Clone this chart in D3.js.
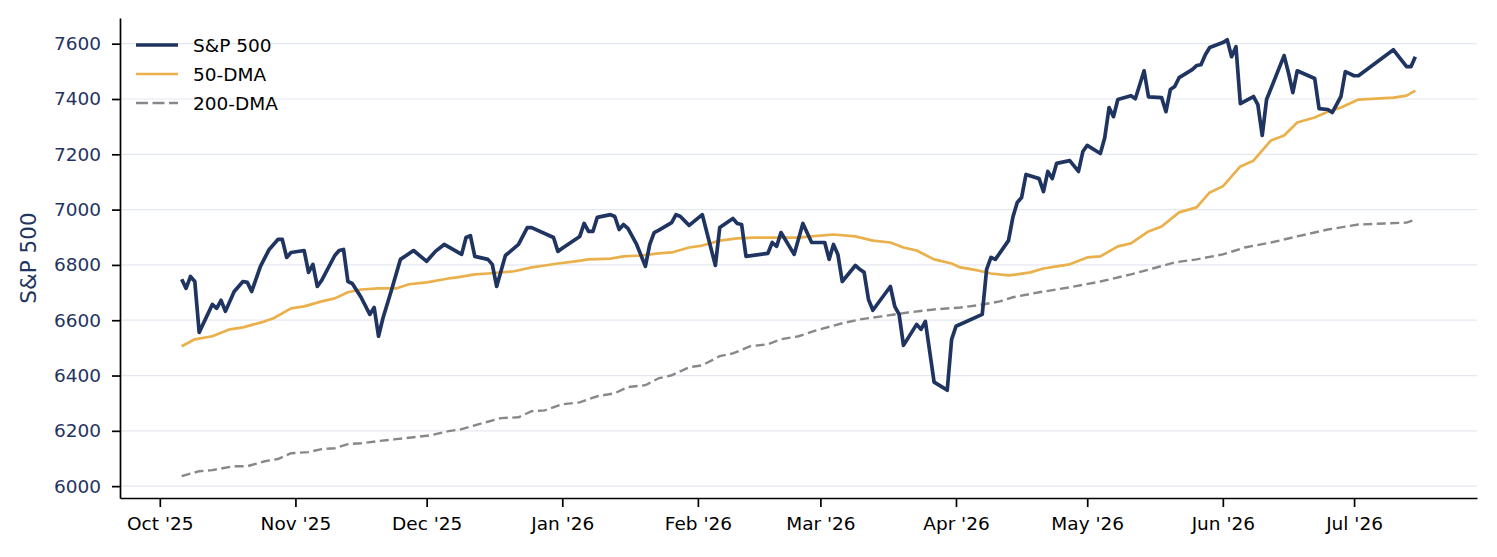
<!DOCTYPE html>
<html>
<head>
<meta charset="utf-8">
<script src="https://cdn.jsdelivr.net/npm/d3@7"></script>
<style>
  body { margin: 0; background: #fff; }
  svg { display: block; font-family: "DejaVu Sans", sans-serif; }
</style>
</head>
<body>
<svg id="chart" width="1497" height="557"></svg>
<script>
// S&P 500 close
const spxDates = [
  '2025-10-06','2025-10-07','2025-10-08','2025-10-09','2025-10-10','2025-10-13','2025-10-14','2025-10-15','2025-10-16','2025-10-18',
  '2025-10-20','2025-10-21','2025-10-22','2025-10-24','2025-10-26','2025-10-28','2025-10-29','2025-10-30','2025-10-31','2025-11-03',
  '2025-11-04','2025-11-05','2025-11-06','2025-11-07','2025-11-10','2025-11-11','2025-11-12','2025-11-13','2025-11-14','2025-11-16',
  '2025-11-18','2025-11-19','2025-11-20','2025-11-21','2025-11-23','2025-11-25','2025-11-28','2025-12-01','2025-12-03','2025-12-05',
  '2025-12-09','2025-12-10','2025-12-11','2025-12-12','2025-12-15','2025-12-16','2025-12-17','2025-12-19','2025-12-22','2025-12-24',
  '2025-12-25','2025-12-30','2025-12-31','2026-01-01','2026-01-05','2026-01-06','2026-01-07','2026-01-08','2026-01-09','2026-01-12',
  '2026-01-13','2026-01-14','2026-01-15','2026-01-16','2026-01-18','2026-01-20','2026-01-21','2026-01-22','2026-01-23','2026-01-26',
  '2026-01-27','2026-01-28','2026-01-30','2026-02-02','2026-02-05','2026-02-06','2026-02-09','2026-02-10','2026-02-11','2026-02-12',
  '2026-02-17','2026-02-18','2026-02-19','2026-02-20','2026-02-23','2026-02-25','2026-02-27','2026-03-02','2026-03-03','2026-03-04',
  '2026-03-05','2026-03-06','2026-03-09','2026-03-10','2026-03-11','2026-03-12','2026-03-13','2026-03-17','2026-03-18','2026-03-19',
  '2026-03-20','2026-03-23','2026-03-24','2026-03-25','2026-03-27','2026-03-30','2026-03-31','2026-04-01','2026-04-07','2026-04-08',
  '2026-04-09','2026-04-10','2026-04-13','2026-04-14','2026-04-15','2026-04-16','2026-04-17','2026-04-20','2026-04-21','2026-04-22',
  '2026-04-23','2026-04-24','2026-04-27','2026-04-29','2026-04-30','2026-05-01','2026-05-04','2026-05-05','2026-05-06','2026-05-07',
  '2026-05-08','2026-05-11','2026-05-12','2026-05-14','2026-05-15','2026-05-18','2026-05-19','2026-05-20','2026-05-21','2026-05-22',
  '2026-05-25','2026-05-26','2026-05-27','2026-05-28','2026-05-29','2026-06-01','2026-06-02','2026-06-03','2026-06-04','2026-06-05',
  '2026-06-08','2026-06-09','2026-06-10','2026-06-11','2026-06-15','2026-06-16','2026-06-17','2026-06-18','2026-06-22','2026-06-23',
  '2026-06-25','2026-06-26','2026-06-28','2026-06-29','2026-07-01','2026-07-02','2026-07-10','2026-07-13','2026-07-14','2026-07-15'
];
const spxValues = [
  6748,6715,6758,6740,6556,6657,6643,6672,6632,6704,
  6740,6737,6704,6795,6856,6892,6892,6827,6845,6852,
  6773,6802,6722,6744,6834,6852,6856,6740,6733,6683,
  6621,6646,6542,6607,6711,6820,6852,6813,6849,6874,
  6838,6899,6906,6831,6820,6802,6722,6834,6874,6935,
  6935,6899,6849,6860,6903,6950,6921,6921,6972,6982,
  6975,6928,6946,6932,6874,6795,6874,6917,6925,6953,
  6982,6975,6943,6982,6798,6935,6968,6950,6946,6831,
  6842,6881,6867,6917,6838,6950,6881,6881,6820,6874,
  6838,6740,6798,6784,6773,6675,6636,6722,6650,6621,
  6509,6585,6567,6596,6376,6347,6531,6578,6621,6784,
  6827,6820,6888,6972,7026,7044,7127,7112,7065,7138,
  7112,7167,7177,7138,7210,7232,7203,7260,7369,7336,
  7398,7412,7401,7502,7408,7405,7354,7434,7445,7477,
  7506,7521,7524,7560,7586,7604,7614,7553,7589,7383,
  7409,7380,7268,7398,7557,7495,7423,7502,7474,7365,
  7362,7351,7409,7499,7484,7484,7578,7517,7517,7553
];

// 50-day moving average
const dma50Dates = [
  '2025-10-06','2025-10-09','2025-10-13','2025-10-17','2025-10-20','2025-10-25','2025-10-27','2025-10-31','2025-11-03','2025-11-07',
  '2025-11-10','2025-11-13','2025-11-16','2025-11-20','2025-11-24','2025-11-27','2025-12-01','2025-12-06','2025-12-08','2025-12-12',
  '2025-12-15','2025-12-21','2025-12-25','2025-12-28','2025-12-31','2026-01-04','2026-01-07','2026-01-12','2026-01-15','2026-01-19',
  '2026-01-23','2026-01-26','2026-01-30','2026-02-02','2026-02-06','2026-02-10','2026-02-14','2026-02-19','2026-02-24','2026-02-27',
  '2026-03-04','2026-03-09','2026-03-13','2026-03-17','2026-03-20','2026-03-23','2026-03-27','2026-03-31','2026-04-02','2026-04-06',
  '2026-04-09','2026-04-13','2026-04-15','2026-04-18','2026-04-21','2026-04-24','2026-04-27','2026-05-01','2026-05-04','2026-05-08',
  '2026-05-11','2026-05-15','2026-05-18','2026-05-22','2026-05-26','2026-05-29','2026-06-01','2026-06-05','2026-06-08','2026-06-12',
  '2026-06-15','2026-06-18','2026-06-22','2026-06-25','2026-06-28','2026-07-02','2026-07-10','2026-07-13','2026-07-15'
];
const dma50Values = [
  6506,6531,6542,6567,6574,6596,6607,6643,6650,6668,
  6679,6701,6711,6715,6715,6730,6737,6751,6755,6766,
  6769,6777,6791,6798,6805,6813,6820,6823,6831,6834,
  6842,6845,6863,6870,6888,6896,6899,6899,6899,6903,
  6910,6903,6888,6881,6863,6852,6820,6805,6791,6780,
  6769,6762,6766,6773,6787,6795,6802,6827,6831,6867,
  6878,6921,6939,6990,7008,7062,7084,7156,7177,7250,
  7268,7315,7333,7354,7369,7398,7405,7412,7430
];

// 200-day moving average
const dma200Dates = [
  '2025-10-06','2025-10-10','2025-10-13','2025-10-18','2025-10-21','2025-10-25','2025-10-28','2025-10-31','2025-11-04','2025-11-07',
  '2025-11-10','2025-11-13','2025-11-16','2025-11-20','2025-11-24','2025-11-28','2025-12-02','2025-12-06','2025-12-09','2025-12-12',
  '2025-12-18','2025-12-22','2025-12-25','2025-12-28','2026-01-01','2026-01-05','2026-01-09','2026-01-13','2026-01-16','2026-01-20',
  '2026-01-23','2026-01-26','2026-01-30','2026-02-02','2026-02-06','2026-02-09','2026-02-13','2026-02-17','2026-02-20','2026-02-24',
  '2026-02-28','2026-03-06','2026-03-10','2026-03-15','2026-03-21','2026-03-27','2026-04-02','2026-04-06','2026-04-11','2026-04-14',
  '2026-04-20','2026-04-27','2026-05-04','2026-05-11','2026-05-16','2026-05-21','2026-05-26','2026-06-01','2026-06-06','2026-06-12',
  '2026-06-18','2026-06-25','2026-07-02','2026-07-08','2026-07-13','2026-07-15'
];
const dma200Values = [
  6036,6054,6058,6072,6072,6090,6098,6119,6123,6134,
  6137,6152,6155,6163,6170,6177,6184,6199,6206,6220,
  6246,6249,6271,6274,6296,6303,6325,6336,6358,6365,
  6390,6401,6430,6437,6470,6480,6506,6513,6531,6542,
  6563,6589,6603,6614,6628,6639,6646,6654,6668,6683,
  6701,6719,6740,6766,6787,6809,6820,6838,6863,6881,
  6903,6928,6946,6950,6953,6964
];

const yTicks = [6000, 6200, 6400, 6600, 6800, 7000, 7200, 7400, 7600];
const seriesNames = ['S&P 500', '50-DMA', '200-DMA'];
const yLabel = 'S&P 500';

const navy = '#1f3461';
const gold = '#e9b04b';
const grey = '#888888';

const parse = d3.timeParse('%Y-%m-%d');
const zip = (ds, vs) => ds.map((d, i) => ({ date: parse(d), value: vs[i] }));
const spx = zip(spxDates, spxValues);
const dma50 = zip(dma50Dates, dma50Values);
const dma200 = zip(dma200Dates, dma200Values);

const svg = d3.select('#chart');
const plotLeft = 120, plotRight = 1477, plotTop = 18, plotBottom = 498;

// matplotlib-style 5% margins around the data
const xExt = d3.extent(spx, d => d.date);
const xPad = (xExt[1] - xExt[0]) * 0.05;
const x = d3.scaleTime()
  .domain([new Date(+xExt[0] - xPad), new Date(+xExt[1] + xPad)])
  .range([plotLeft, plotRight]);

const allVals = spxValues.concat(dma50Values, dma200Values);
const yExt = d3.extent(allVals);
const yPad = (yExt[1] - yExt[0]) * 0.05;
const y = d3.scaleLinear()
  .domain([yExt[0] - yPad, yExt[1] + yPad])
  .range([plotBottom, plotTop]);

// grid
svg.append('g')
  .selectAll('line')
  .data(yTicks)
  .enter()
  .append('line')
  .attr('x1', plotLeft)
  .attr('x2', plotRight)
  .attr('y1', d => y(d))
  .attr('y2', d => y(d))
  .attr('stroke', '#e4e8f0')
  .attr('stroke-width', 1.2);

const line = d3.line()
  .x(d => x(d.date))
  .y(d => y(d.value));

svg.append('path')
  .datum(dma200)
  .attr('d', line)
  .attr('fill', 'none')
  .attr('stroke', grey)
  .attr('stroke-width', 2.4)
  .attr('stroke-dasharray', '9,4.5');

svg.append('path')
  .datum(dma50)
  .attr('d', line)
  .attr('fill', 'none')
  .attr('stroke', gold)
  .attr('stroke-width', 2.7)
  .attr('stroke-linejoin', 'round');

svg.append('path')
  .datum(spx)
  .attr('d', line)
  .attr('fill', 'none')
  .attr('stroke', navy)
  .attr('stroke-width', 3.7)
  .attr('stroke-linejoin', 'round');

// axes
const monthTicks = d3.timeMonth.range(new Date(2025, 9, 1), new Date(2026, 7, 1));

const xAxis = svg.append('g')
  .attr('transform', `translate(0,${plotBottom})`)
  .call(d3.axisBottom(x)
    .tickValues(monthTicks)
    .tickFormat(d3.timeFormat("%b '%y"))
    .tickSize(9)
    .tickSizeOuter(0)
    .tickPadding(10));
xAxis.select('.domain').attr('stroke', '#000').attr('stroke-width', 1.7);
xAxis.selectAll('.tick line').attr('stroke', '#000').attr('stroke-width', 1.7);
xAxis.selectAll('.tick text')
  .attr('fill', '#000')
  .style('font-size', '18.5px')
  .style('font-family', '"DejaVu Sans", sans-serif');

const yAxis = svg.append('g')
  .attr('transform', `translate(${plotLeft},0)`)
  .call(d3.axisLeft(y)
    .tickValues(yTicks)
    .tickFormat(d3.format('d'))
    .tickSize(8)
    .tickSizeOuter(0)
    .tickPadding(11));
yAxis.select('.domain').attr('stroke', '#000').attr('stroke-width', 1.7);
yAxis.selectAll('.tick line').attr('stroke', '#000').attr('stroke-width', 1.7);
yAxis.selectAll('.tick text')
  .attr('fill', navy)
  .style('font-size', '18.5px')
  .style('font-family', '"DejaVu Sans", sans-serif');

svg.append('text')
  .attr('transform', `translate(28,${(plotTop + plotBottom) / 2}) rotate(-90)`)
  .attr('text-anchor', 'middle')
  .attr('dominant-baseline', 'central')
  .attr('fill', navy)
  .style('font-size', '21.5px')
  .text(yLabel);

// legend
const legendStyles = [
  { color: navy, width: 3.7, dash: null },
  { color: gold, width: 2.7, dash: null },
  { color: grey, width: 2.4, dash: '12,4.5' }
];
const legend = svg.append('g')
  .selectAll('g')
  .data(seriesNames)
  .enter()
  .append('g')
  .attr('transform', (d, i) => `translate(136,${45 + i * 29})`);

legend.append('line')
  .attr('x1', 0)
  .attr('x2', 42)
  .attr('stroke', (d, i) => legendStyles[i].color)
  .attr('stroke-width', (d, i) => legendStyles[i].width)
  .attr('stroke-dasharray', (d, i) => legendStyles[i].dash);

legend.append('text')
  .attr('x', 57)
  .attr('dominant-baseline', 'central')
  .attr('fill', '#000')
  .style('font-size', '18.5px')
  .text(d => d);
</script>
</body>
</html>
